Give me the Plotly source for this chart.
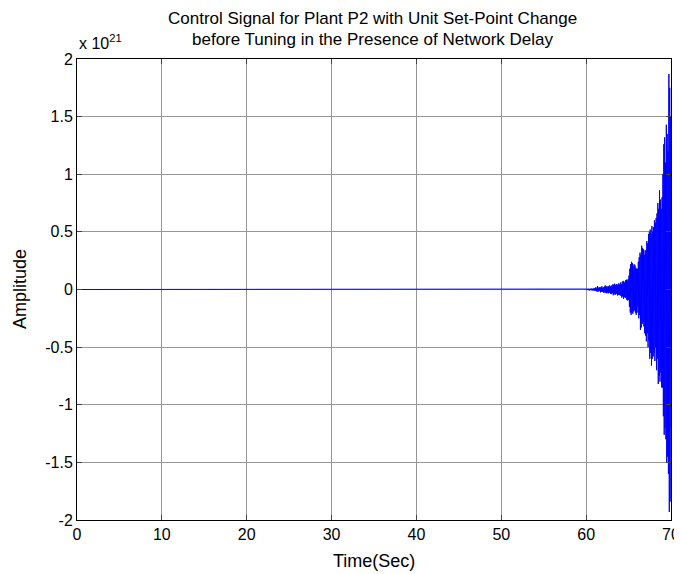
import plotly.graph_objects as go

# Time samples (s): flat segment start, then the oscillating tail 60.00..70.00 every 0.05 s
t_flat = [0.0]
t_osc = [round(60.0 + 0.05 * i, 2) for i in range(201)]

# Control signal amplitude (units of 1e21)
u_flat = [0.0]
u_osc = [
    # 60.00 - 60.95
    0.0, 0.004, -0.005, 0.006, -0.004, 0.007, -0.006, 0.005, -0.008, 0.006,
    -0.005, 0.007, -0.006, 0.008, -0.007, 0.006, -0.009, 0.008, -0.007, 0.010,
    # 61.00 - 61.95
    -0.010, 0.012, -0.009, 0.020, -0.015, 0.011, -0.018, 0.030, -0.020, 0.015,
    -0.012, 0.018, -0.014, 0.022, -0.025, 0.016, -0.019, 0.028, -0.021, 0.015,
    # 62.00 - 62.95
    -0.022, 0.018, -0.030, 0.025, -0.020, 0.035, -0.028, 0.022, -0.032, 0.030,
    -0.026, 0.020, -0.034, 0.028, -0.024, 0.036, -0.030, 0.025, -0.038, 0.032,
    # 63.00 - 63.95
    -0.040, 0.035, -0.030, 0.045, -0.050, 0.040, -0.035, 0.050, -0.045, 0.038,
    -0.042, 0.048, -0.036, 0.044, -0.052, 0.040, -0.046, 0.055, -0.048, 0.042,
    # 64.00 - 64.95
    -0.050, 0.060, -0.055, 0.045, -0.070, 0.065, -0.060, 0.075, -0.080, 0.070,
    -0.065, 0.058, -0.075, 0.080, -0.070, 0.085, -0.090, 0.078, -0.095, 0.090,
    # 65.00 - 65.95
    -0.090, 0.120, -0.150, 0.180, -0.200, 0.220, -0.220, 0.240, -0.200, 0.230,
    -0.210, 0.200, -0.190, 0.220, -0.180, 0.210, -0.200, 0.190, -0.220, 0.180,
    # 66.00 - 66.95
    -0.200, 0.180, -0.150, 0.240, -0.250, 0.280, -0.220, 0.320, -0.350, 0.300,
    -0.330, 0.380, -0.300, 0.360, -0.280, 0.350, -0.320, 0.300, -0.380, 0.340,
    # 67.00 - 67.95
    -0.400, 0.340, -0.450, 0.420, -0.380, 0.400, -0.500, 0.480, -0.440, 0.500,
    -0.600, 0.520, -0.550, 0.480, -0.660, 0.550, -0.600, 0.500, -0.580, 0.540,
    # 68.00 - 68.95
    -0.550, 0.600, -0.620, 0.580, -0.500, 0.620, -0.700, 0.660, -0.600, 0.750,
    -0.820, 0.700, -0.750, 0.860, -0.800, 0.780, -0.720, 0.700, -0.850, 0.800,
    # 69.00 - 69.95
    -0.850, 1.000, -1.100, 1.260, -1.260, 1.320, -1.200, 1.100, -1.300, 1.430,
    -1.500, 1.350, -1.450, 1.200, -1.600, 1.870, -1.930, 1.750, -1.840, 1.500,
    # 70.00
    -1.200,
]

x_ticks = [0, 10, 20, 30, 40, 50, 60, 70]
y_ticks = [-2, -1.5, -1, -0.5, 0, 0.5, 1, 1.5, 2]
y_tick_text = ["-2", "-1.5", "-1", "-0.5", "0", "0.5", "1", "1.5", "2"]

title_lines = ["Control Signal for Plant P2 with Unit Set-Point Change",
               "before Tuning in the Presence of Network Delay"]

t = t_flat + t_osc
u = u_flat + u_osc

fig = go.Figure()
fig.add_trace(go.Scatter(x=t, y=u, mode="lines",
                         line=dict(color="rgb(0,0,255)", width=1),
                         showlegend=False))

font_family = "Liberation Sans, Arial, sans-serif"
# The page body has an 8 px default margin, so the figure sits at (8, 8) in the window.
OFF = 8
L, R, T, B = 77 - OFF, 11, 59 - OFF, 54
W, H = 682 - OFF, 574 - OFF
PW, PH = W - L - R, H - T - B

def px_x(px):
    return (px - OFF - L) / PW

def px_y(py):
    return (H - B - (py - OFF)) / PH

fig.update_layout(
    width=W, height=H,
    paper_bgcolor="white", plot_bgcolor="white",
    margin=dict(l=L, r=R, t=T, b=B, autoexpand=False),
    font=dict(family=font_family, size=16, color="black"),
)
fig.update_xaxes(range=[0, 70], tickvals=x_ticks, ticks="inside", ticklen=5,
                 showline=True, linecolor="black", linewidth=1, mirror="ticks",
                 showgrid=True, gridcolor="rgb(150,150,150)", gridwidth=1,
                 zeroline=False, tickfont=dict(size=16), automargin=False)
fig.update_yaxes(range=[-2, 2], tickvals=y_ticks, ticktext=y_tick_text,
                 ticks="inside", ticklen=5,
                 showline=True, linecolor="black", linewidth=1, mirror="ticks",
                 showgrid=True, gridcolor="rgb(150,150,150)", gridwidth=1,
                 zeroline=False, tickfont=dict(size=16), automargin=False)

# Title (two lines)
for line, py in zip(title_lines, [19, 39]):
    fig.add_annotation(text=line, xref="paper", yref="paper",
                       x=px_x(372), y=px_y(py), xanchor="center", yanchor="middle",
                       showarrow=False, font=dict(size=17, family=font_family))
# Axis titles
fig.add_annotation(text="Time(Sec)", xref="paper", yref="paper",
                   x=px_x(374), y=px_y(561), xanchor="center", yanchor="middle",
                   showarrow=False, font=dict(size=18, family=font_family))
fig.add_annotation(text="Amplitude", xref="paper", yref="paper",
                   x=px_x(20), y=px_y(289), xanchor="center", yanchor="middle",
                   textangle=-90, showarrow=False, font=dict(size=18, family=font_family))
# Exponent label
fig.add_annotation(text="x 10<sup>21</sup>", xref="paper", yref="paper",
                   x=0, y=px_y(54), xanchor="left", yanchor="bottom", showarrow=False,
                   font=dict(size=16, family=font_family))

fig.write_html("out.html")
